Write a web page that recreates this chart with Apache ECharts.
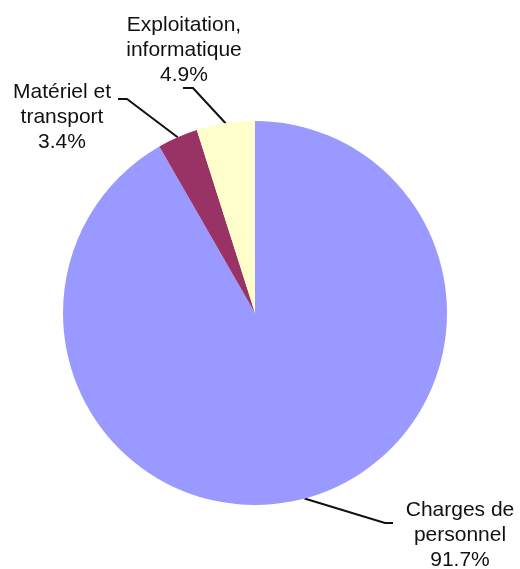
<!DOCTYPE html>
<html>
<head>
<meta charset="utf-8">
<script src="https://cdn.jsdelivr.net/npm/echarts@6/dist/echarts.min.js"></script>
<style>
  html, body { margin: 0; padding: 0; background: #fff; }
  #chart { width: 520px; height: 569px; }
</style>
</head>
<body>
<div id="chart"></div>
<script>
// postes de dépense (sens horaire depuis midi)
const categories = ['Charges de\npersonnel', 'Matériel et\ntransport', 'Exploitation,\ninformatique'];
const shares = [91.7, 3.4, 4.9];
const colors = ['#9999FF', '#993366', '#FFFFCC'];

// placement des étiquettes : centre du texte, coude et fin du trait
const labelSpots = [
  { x: 460, y: 535, bend: [385, 523], end: [393, 523] },
  { x: 62, y: 117, bend: [127, 99], end: [118, 99] },
  { x: 184, y: 50, bend: [193, 88], end: [183, 88] }
];

const chart = echarts.init(document.getElementById('chart'));

chart.setOption({
  animation: false,
  series: [
    {
      type: 'pie',
      center: [255, 313],
      radius: 192,
      startAngle: 90,
      clockwise: true,
      silent: true,
      data: categories.map((name, i) => ({
        name: name,
        value: shares[i],
        itemStyle: { color: colors[i] }
      })),
      label: {
        show: true,
        position: 'outside',
        overflow: 'none',
        edgeDistance: 0,
        formatter: p => p.name + '\n' + p.value.toFixed(1) + '%',
        fontFamily: 'Liberation Sans, Arial, sans-serif',
        fontSize: 21,
        lineHeight: 25,
        color: '#111',
        align: 'center'
      },
      labelLine: {
        show: true,
        lineStyle: { color: '#111', width: 2 }
      },
      labelLayout: params => {
        const s = labelSpots[params.dataIndex];
        return {
          x: s.x,
          y: s.y,
          align: 'center',
          verticalAlign: 'middle',
          labelLinePoints: [params.labelLinePoints[0], s.bend, s.end]
        };
      }
    }
  ]
});
</script>
</body>
</html>
